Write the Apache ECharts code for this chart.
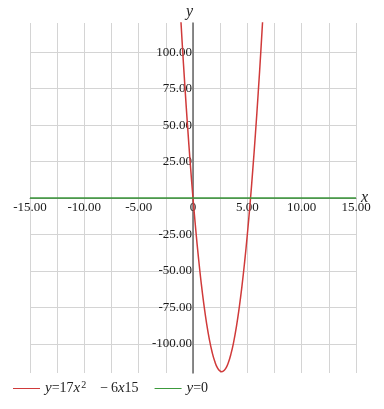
<!DOCTYPE html>
<html>
<head>
<meta charset="utf-8">
<script src="https://cdn.jsdelivr.net/npm/echarts@6/dist/echarts.min.js"></script>
<style>html,body{margin:0;padding:0;background:#fff;}#c{width:384px;height:409px;}</style>
</head>
<body>
<div id="c"></div>
<script>
// Data
const curveX = [-1.25,-1.0,-0.75,-0.5,-0.25,0,0.25,0.5,0.75,1.0,1.25,1.5,1.75,2.0,2.25,2.5,2.65,2.75,3.0,3.25,3.5,3.75,4.0,4.25,4.5,4.75,5.0,5.25,5.5,5.75,6.0,6.25,6.5];
const curveY = [139.06,107,77.06,49.25,23.56,0,-21.44,-40.75,-57.94,-73,-85.94,-96.75,-105.44,-112,-116.44,-118.75,-119.12,-118.94,-117,-112.94,-106.75,-98.44,-88,-75.44,-60.75,-43.94,-25,-3.94,19.25,44.56,72,101.56,133.25];
const zeroX = [-15, 15];
const zeroY = [0, 0];
const xTickLabels = [-15, -10, -5, 0, 5, 10, 15];
const yTickLabels = [-100, -75, -50, -25, 25, 50, 75, 100];
const yGridValues = [-100, -75, -50, -25, 0, 25, 50, 75, 100];
const seriesNames = ['y = 17x2 − 6x15', 'y = 0'];
const xRange = [-15, 15];
const yRange = [-120, 120];

const FONT = '"Liberation Serif", "DejaVu Serif", serif';
const chart = echarts.init(document.getElementById('c'), null, {renderer: 'canvas'});
chart.setOption({
  animation: false,
  backgroundColor: '#fff',
  grid: {left: 30, right: 28, top: 23, bottom: 36, containLabel: false, outerBoundsMode: 'none'},
  xAxis: {
    type: 'value', min: xRange[0], max: xRange[1], interval: 2.5,
    position: 'bottom',
    name: 'x', nameLocation: 'end', nameGap: 5, nameMoveOverlap: false,
    nameTextStyle: {fontFamily: FONT, fontStyle: 'italic', fontSize: 16, color: '#222', padding: [0, 0, 12, 0]},
    axisLine: {show: true, onZero: false, lineStyle: {color: '#888', width: 1}},
    axisTick: {show: false},
    axisLabel: {
      customValues: xTickLabels, margin: 3,
      fontFamily: FONT, fontSize: 13, color: '#1a1a1a',
      formatter: v => v === 0 ? '0' : v.toFixed(2)
    },
    splitLine: {show: true, lineStyle: {color: '#d4d4d4', width: 1}}
  },
  yAxis: {
    type: 'value', min: yRange[0], max: yRange[1],
    position: 'left',
    name: 'y', nameLocation: 'end', nameGap: 3, nameMoveOverlap: false,
    nameTextStyle: {fontFamily: FONT, fontStyle: 'italic', fontSize: 16, color: '#222', align: 'center', padding: [0, 7, 0, 0]},
    axisLine: {show: true, onZero: false, lineStyle: {color: '#666', width: 1.5}},
    axisTick: {show: false, customValues: yGridValues},
    axisLabel: {
      customValues: yTickLabels, margin: 1,
      fontFamily: FONT, fontSize: 13, color: '#1a1a1a',
      formatter: v => v.toFixed(2)
    },
    splitLine: {show: true, customValues: yGridValues, lineStyle: {color: '#d4d4d4', width: 1}}
  },
  legend: {
    left: 8, bottom: 8, itemWidth: 27, itemHeight: 14, itemGap: 16,
    icon: 'path://M0,7L27,7L27,8L0,8Z',
    data: seriesNames,
    formatter: function (name) {
      if (name === seriesNames[0]) return '{i|y}{n|=17}{i|x}{s|2}{g| }{n|−\u20096}{i|x}{n|15}';
      return '{i|y}{n|=0}';
    },
    textStyle: {
      fontFamily: FONT, fontSize: 14, color: '#222',
      rich: {
        i: {fontFamily: FONT, fontSize: 15, fontStyle: 'italic', color: '#222'},
        n: {fontFamily: FONT, fontSize: 14, color: '#222'},
        s: {fontFamily: FONT, fontSize: 10, color: '#222', padding: [0, 0, 7, 1]},
        g: {fontSize: 14, width: 14}
      }
    }
  },
  series: [
    {
      name: seriesNames[0], type: 'line', smooth: true, showSymbol: false, symbol: 'none',
      clip: true, data: curveX.map((x, i) => [x, curveY[i]]),
      lineStyle: {color: '#d03a3a', width: 1.5}, itemStyle: {color: '#d03a3a'}
    },
    {
      name: seriesNames[1], type: 'line', showSymbol: false, symbol: 'none',
      data: zeroX.map((x, i) => [x, zeroY[i]]),
      lineStyle: {color: '#3c9a3c', width: 1.5}, itemStyle: {color: '#3c9a3c'}
    }
  ]
});
// Move both axes (line + labels) to cross at the origin, using the library's own scales
const origin = chart.convertToPixel({gridIndex: 0}, [0, 0]);
const corner = chart.convertToPixel({gridIndex: 0}, [xRange[0], yRange[0]]);
chart.setOption({
  xAxis: {offset: -(corner[1] - origin[1])},
  yAxis: {offset: -(origin[0] - corner[0])}
});
</script>
</body>
</html>
